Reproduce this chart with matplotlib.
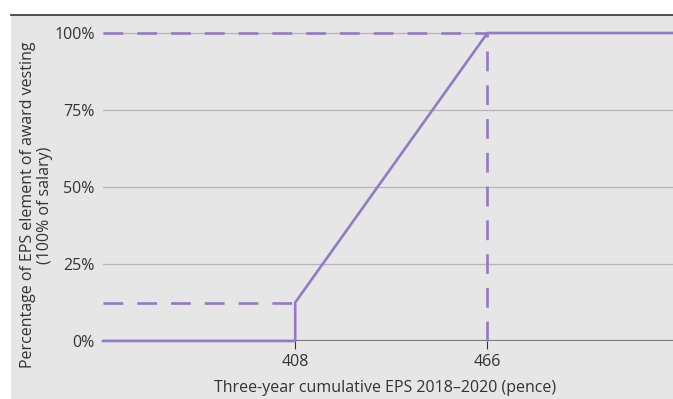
import matplotlib.pyplot as plt
from matplotlib.patches import Rectangle
from matplotlib.lines import Line2D

# data
eps_x = [350, 408, 408, 466, 522]
vest_y = [0, 0, 12.5, 100, 100]
threshold_eps = 408
threshold_vest = 12.5
max_eps = 466
max_vest = 100
x_ticks = [408, 466]
y_ticks = [0, 25, 50, 75, 100]
y_ticklabels = ["0%", "25%", "50%", "75%", "100%"]

purple = "#9479c4"
text_col = "#333333"
bg = "#e6e6e6"

plt.rcParams['font.family'] = ['Open Sans', 'DejaVu Sans']

fig = plt.figure(figsize=(6.73, 3.99), dpi=100)
fig.patch.set_facecolor("white")
fig.add_artist(Rectangle((11/673, 0), 1 - 11/673, 1 - 15/399,
                         transform=fig.transFigure, facecolor=bg, edgecolor="none", zorder=0))
fig.add_artist(Line2D([11/673, 1], [1 - 15/399, 1 - 15/399],
                      transform=fig.transFigure, color="#333333", lw=1.2))

ax = fig.add_axes([103/673, 1 - 341/399, 1 - 103/673, (341 - 33)/399])
ax.set_facecolor("none")
ax.set_xlim(350, 522)
ax.set_ylim(0, 100)

for y in y_ticks[1:]:
    ax.axhline(y, color="#b4b4b4", lw=0.9, zorder=1, clip_on=False)
ax.axhline(0, color="#7a7a7a", lw=1.6, zorder=1)

dash = (0, (7.5, 5.3))
ax.plot([350, threshold_eps], [threshold_vest, threshold_vest], color=purple, lw=1.9,
        linestyle=dash, zorder=3, clip_on=False)
ax.plot([350, max_eps], [max_vest, max_vest], color=purple, lw=1.9,
        linestyle=dash, zorder=3, clip_on=False)
ax.plot([max_eps, max_eps], [0, max_vest], color=purple, lw=1.9,
        linestyle=dash, zorder=3, clip_on=False)
ax.plot(eps_x, vest_y, color=purple, lw=1.9, zorder=4, clip_on=False)

for s in ax.spines.values():
    s.set_visible(False)

ax.set_xticks(x_ticks)
ax.set_xticklabels([str(v) for v in x_ticks])
ax.set_yticks(y_ticks)
ax.set_yticklabels(y_ticklabels)
ax.tick_params(axis="x", length=6, width=0.8, color="#333333", labelsize=11.5,
               labelcolor=text_col, pad=3)
ax.tick_params(axis="y", length=0, labelsize=11.5, labelcolor=text_col, pad=6)

fig.text(385/673, 1 - 388/399, "Three-year cumulative EPS 2018\u20132020 (pence)",
         fontsize=11.5, color=text_col, ha="center", va="center")
fig.text(36.5/673, 1 - 205/399,
         "Percentage of EPS element of award vesting\n(100% of salary)",
         fontsize=11.5, color=text_col, ha="center", va="center", rotation=90,
         multialignment="center", linespacing=1.05)

fig.savefig("out.png", dpi=100)
